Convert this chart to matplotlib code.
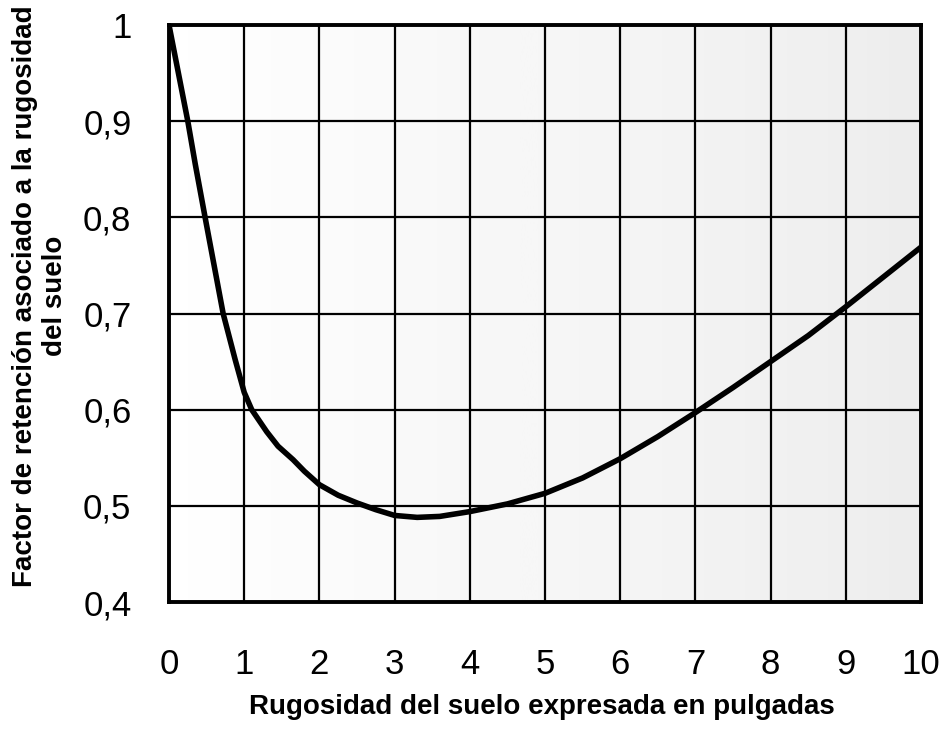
import numpy as np
import matplotlib
matplotlib.use("Agg")
import matplotlib.pyplot as plt
from matplotlib.ticker import FuncFormatter

# Data
rugosidad = [0.0, 0.1, 0.25, 0.35, 0.48, 0.6, 0.72, 0.88, 1.0, 1.1, 1.3, 1.45, 1.65, 1.8, 2.0, 2.25,
             2.5, 2.75, 3.0, 3.3, 3.6, 4.0, 4.5, 5.0, 5.5, 6.0, 6.5, 7.0, 7.5, 8.0, 8.5, 9.0, 9.5, 10.0]
factor = [1.0, 0.96, 0.90, 0.855, 0.80, 0.75, 0.70, 0.652, 0.618, 0.600, 0.577, 0.562, 0.548, 0.536, 0.522, 0.511,
          0.503, 0.496, 0.490, 0.488, 0.489, 0.494, 0.502, 0.513, 0.529, 0.549, 0.572, 0.597, 0.623, 0.650, 0.677, 0.707, 0.738, 0.769]
x_ticks = list(range(0, 11))
y_ticks = [0.4, 0.5, 0.6, 0.7, 0.8, 0.9, 1.0]

plt.rcParams['font.family'] = ['Liberation Sans', 'DejaVu Sans']

fig = plt.figure(figsize=(9.43, 7.30), dpi=100)
ax = fig.add_axes([169/943, 1-602/730, (921-169)/943, (602-25)/730])

# subtle background shading (scanned look), lighter on the left
grad = np.linspace(0.0, 1.0, 256).reshape(1, -1)
ax.imshow(grad, extent=[0, 10, 0.4, 1.0], aspect='auto', cmap='Greys',
          vmin=0, vmax=7, zorder=0, interpolation='bilinear')

ax.set_xlim(0, 10)
ax.set_ylim(0.4, 1.0)
ax.set_xticks(x_ticks)
ax.set_yticks(y_ticks)
ax.yaxis.set_major_formatter(FuncFormatter(lambda v, p: '1' if abs(v-1) < 1e-9 else f"{v:.1f}".replace('.', ',')))
ax.tick_params(axis='both', length=0, labelsize=25, colors='black')
ax.tick_params(axis='x', pad=33)
ax.tick_params(axis='y', pad=27)
ax.grid(True, color='black', linewidth=1.6, zorder=1)
ax.set_axisbelow(False)
for s in ax.spines.values():
    s.set_linewidth(2.8)
    s.set_color('black')
    s.set_zorder(3)

ax.plot(rugosidad, factor, color='black', linewidth=4.0, zorder=2,
        solid_capstyle='round', solid_joinstyle='round')

fig.text(542/943, 1-707/730, 'Rugosidad del suelo expresada en pulgadas',
         ha='center', va='center', fontsize=20, fontweight='bold')
fig.text(40/943, 1-296/730, 'Factor de retención asociado a la rugosidad\ndel suelo',
         ha='center', va='center', rotation=90, fontsize=20, fontweight='bold',
         multialignment='center', linespacing=1.2)

fig.savefig('out.png', dpi=100)
